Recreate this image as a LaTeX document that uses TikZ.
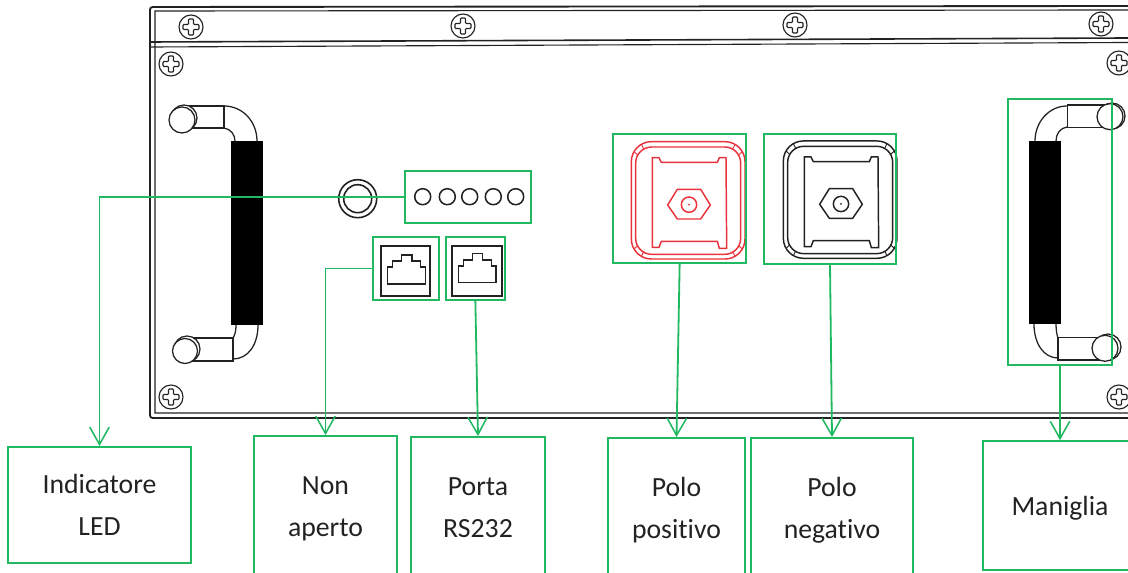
\documentclass[tikz,border=0pt]{standalone}
\usepackage{fontspec}
\setmainfont[Ligatures={NoCommon}]{Carlito}
\usetikzlibrary{arrows.meta}
\definecolor{gline}{HTML}{20B860}
\definecolor{ink}{HTML}{222222}
\definecolor{redt}{HTML}{E8323C}
\tikzset{
  x=0.75pt,y=-0.75pt,
  lbl/.style={draw=gline,line width=1.4pt,align=center,inner sep=0pt,font=\fontsize{20.8}{31.5}\selectfont,text=ink},
  hl/.style={draw=gline,line width=1.4pt,inner sep=0pt},
  conn/.style={draw=gline,line width=1.35pt,-{Straight Barb[length=13pt,width=14.5pt,line width=1.15pt]}},
  panel/.style={draw=ink,line width=1.1pt},
  thin/.style={draw=ink,line width=0.85pt},
  hand/.style={draw=ink,line width=0.95pt,fill=white},
}
\newcommand{\screw}[2]{%
  \begin{scope}[shift={(#1,#2)}]
    \draw[thin,fill=white] (0,0) circle (12);
    \draw[thin,rounded corners=0.7pt] (-2.5,-8) -- (2.5,-8) -- (2.5,-2.5) -- (8,-2.5) -- (8,2.5) -- (2.5,2.5) -- (2.5,8) -- (-2.5,8) -- (-2.5,2.5) -- (-8,2.5) -- (-8,-2.5) -- (-2.5,-2.5) -- cycle;
  \end{scope}}
\newcommand{\terminal}[3]{%
  \begin{scope}[shift={(#1,#2)},x=0.25pt,y=-0.25pt,line width=1.1pt]
    \draw[#3,rounded corners=15pt] (94,50) rectangle (435,402);
    \draw[#3,rounded corners=12pt] (107,66) rectangle (422,388);
    \draw[#3,line width=0.7pt] (102,80) -- (113,90) (124,58) -- (131,72)
      (427,80) -- (416,90) (405,58) -- (398,72)
      (102,372) -- (113,362) (124,394) -- (131,380)
      (427,372) -- (416,362) (405,394) -- (398,380);
    \draw[#3] (157,98) -- (177,98) -- (184,112) -- (352,112) -- (358,98) -- (378,98) -- (380,370) -- (358,370) -- (352,349) -- (184,349) -- (177,367) -- (157,367) -- cycle;
    \draw[#3] (203,240) -- (232,193) -- (302,193) -- (331,240) -- (302,282) -- (232,282) -- cycle;
    \draw[#3] (267,239) circle (23);
    \fill[#3] (267,239) circle (3);
  \end{scope}}
\begin{document}
\begin{tikzpicture}
\useasboundingbox (0,0) rectangle (1128,573);
\clip (0,0) rectangle (1128,573);
% panel
\draw[panel,line width=1.4pt,rounded corners=2pt] (1128,6) -- (150,7) -- (150,418) -- (1128,418);
\draw[thin] (1128,10) -- (155,11) -- (155,413) -- (1128,413);
\draw[panel,line width=1.2pt] (150,42) -- (1128,38);
\draw[thin] (150,47) -- (1128,42.5);
\screw{191}{27}\screw{463}{26}\screw{795}{25}\screw{1101}{24}
\screw{171}{64}\screw{1119}{63}\screw{171}{397}\screw{1119}{397}
% left handle
\draw[hand] (224,106) .. controls (243,106) and (257,122) .. (257,141);
\draw[hand] (224,128) .. controls (231,129) and (235,135) .. (235,141);
\draw[hand] (258,325) .. controls (258,345) and (248,359) .. (233,359);
\draw[hand] (236,325) .. controls (236,331) and (235,335) .. (233,338);
\draw[hand] (184,106) rectangle (224,128);
\draw[hand] (184,118) circle (13);
\draw[hand] (182,120) circle (13);
\draw[hand] (190,338) rectangle (233,361);
\draw[hand] (187,349) circle (13);
\draw[hand] (185,351) circle (12.5);
\fill[black] (231,141.5) rectangle (262.5,325);
% right handle
\draw[hand] (1067,106) .. controls (1049,106) and (1035,122) .. (1035,141);
\draw[hand] (1067,127) .. controls (1060,128) and (1056,134) .. (1056,141);
\draw[hand] (1034,324) .. controls (1034,344) and (1044,358) .. (1058,358);
\draw[hand] (1056,324) .. controls (1056,331) and (1057,335) .. (1058,338);
\draw[hand] (1067.5,105) rectangle (1108,127.7);
\draw[hand] (1112,116) circle (13);
\draw[hand] (1110,116.7) circle (13);
\draw[hand] (1058,337.7) rectangle (1104,360);
\draw[hand] (1108,347) circle (13);
\draw[hand] (1105,348.3) circle (13);
\fill[black] (1029,141) rectangle (1060.7,324);
% LED
\draw[thin,line width=1.2pt] (357.7,198.7) circle (19);
\draw[thin,line width=1.2pt] (357.7,198.7) circle (14);
\foreach \px in {422.7,447.3,469.7,493.3,515.7} \draw[thin,line width=1.15pt] (\px,196.7) circle (8);
% ports
\draw[panel,line width=1.4pt] (380.7,245.7) rectangle (430.3,295.7);
\draw[panel,line width=1.4pt] (451.7,245.7) rectangle (501.7,295.7);
\begin{scope}[shift={(320,160)},x=0.25pt,y=-0.25pt]
\draw[thin,line width=1.1pt] (203,372) -- (316,372) -- (316,321) -- (302,321) -- (302,303) -- (276,303) -- (276,285) -- (245,285) -- (245,303) -- (218,303) -- (218,321) -- (203,321) -- cycle;
\draw[thin,line width=1.1pt] (415,367) -- (528,367) -- (528,318) -- (514,318) -- (514,300) -- (488,300) -- (488,281) -- (458,281) -- (458,300) -- (430,300) -- (430,318) -- (415,318) -- cycle;
\end{scope}
\terminal{600}{125}{redt}
\terminal{752}{124.3}{ink}
% highlight boxes
\node[hl,minimum width=94.5pt,minimum height=38.8pt] (ledbox) at (467.85,196.85) {};
\node[hl,minimum width=49.3pt,minimum height=46.8pt] (pna) at (406.15,268.5) {};
\node[hl,minimum width=44.5pt,minimum height=46.8pt] (prs) at (475.35,268.5) {};
\node[hl,minimum width=99.5pt,minimum height=97.2pt] (ppos) at (679.65,198.5) {};
\node[hl,minimum width=99.5pt,minimum height=97.5pt] (pneg) at (830,199) {};
\node[hl,minimum width=78pt,minimum height=199.5pt] (hbox) at (1060,232) {};
% labels
\node[lbl,minimum width=137.2pt,minimum height=87pt] (lind) at (99.5,505) {Indicatore\\LED};
\node[lbl,minimum width=107.2pt,minimum height=109.5pt] (lnon) at (325.5,509) {Non\\aperto};
\node[lbl,minimum width=100.5pt,minimum height=106.5pt] (lrs) at (478,508) {Porta\\RS232};
\node[lbl,minimum width=102.7pt,minimum height=108pt] (lpos) at (676.5,510) {Polo\\positivo};
\node[lbl,minimum width=121.5pt,minimum height=108pt] (lneg) at (832,510) {Polo\\negativo};
\node[lbl,minimum width=115pt,minimum height=96.5pt,text height=20pt,text depth=4.5pt] (lman) at (1060,505.5) {Maniglia};
% connectors
\draw[conn] (ledbox.west) -- (ledbox.west -| lind.north) -- (lind.north);
\draw[conn] (pna.west) -- (pna.west -| lnon.north) -- (lnon.north);
\draw[conn] (prs.south) -- (lrs.north);
\draw[conn] (ppos.south) -- (lpos.north);
\draw[conn] (pneg.south) -- (lneg.north);
\draw[conn] (hbox.south) -- (lman.north);
\end{tikzpicture}
\end{document}
